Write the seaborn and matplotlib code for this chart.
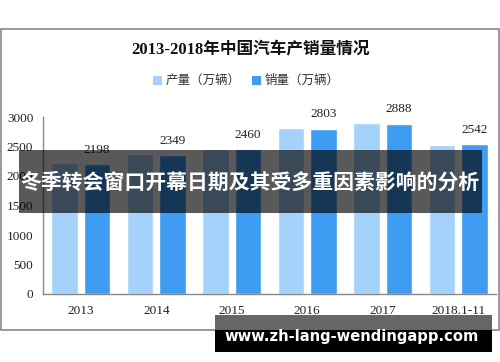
import matplotlib
matplotlib.use("Agg")
import matplotlib.pyplot as plt
import seaborn as sns
import pandas as pd
from matplotlib.patches import Rectangle

categories = ["2013", "2014", "2015", "2016", "2017", "2018.1-11"]
production = [2212, 2372, 2450, 2812, 2902, 2532]
sales = [2198, 2349, 2460, 2803, 2888, 2542]
series_names = ["产量（万辆）", "销量（万辆）"]
yticks = [0, 500, 1000, 1500, 2000, 2500, 3000]
title = "2013-2018年中国汽车产销量情况"
banner = "冬季转会窗口开幕日期及其受多重因素影响的分析"
url = "www.zh-lang-wendingapp.com"

sns.set_style("white")
plt.rcParams['font.family'] = ['Noto Sans CJK SC', 'DejaVu Sans']

df = pd.DataFrame({
    "cat": categories * 2,
    "val": production + sales,
    "series": [series_names[0]] * len(categories) + [series_names[1]] * len(categories),
})

W, H = 500, 362
fig = plt.figure(figsize=(5, 3.62), dpi=100)
ax = fig.add_axes([43 / W, 68 / H, 453 / W, 177 / H])

palette = {series_names[0]: "#a5d2fa", series_names[1]: "#3e9cf2"}
sns.barplot(data=df, x="cat", y="val", hue="series", palette=palette,
            width=0.86, gap=0.17, ax=ax, legend=False, saturation=1)

ax.set_xlim(-0.5, len(categories) - 0.5)
ax.set_ylim(0, 3000)
ax.set_yticks(yticks)
ax.set_yticklabels([str(v) for v in yticks], family=['Liberation Serif'], fontsize=9.5, color="#222222")
ax.set_xticks(range(len(categories)))
ax.set_xticklabels(categories, family=['Liberation Serif'], fontsize=9.5, color="#222222")
ax.set_xticks([i - 0.5 for i in range(len(categories) + 1)], minor=True)
ax.tick_params(axis="x", which="major", length=0, pad=8)
ax.tick_params(axis="x", which="minor", length=5, color="#888888", direction="out")
ax.tick_params(axis="y", length=5, color="#888888", direction="out", pad=2)
ax.set_xlabel("")
ax.set_ylabel("")
for s in ["top", "right"]:
    ax.spines[s].set_visible(False)
for s in ["left", "bottom"]:
    ax.spines[s].set_color("#888888")
    ax.spines[s].set_linewidth(1)

# value labels on sales bars
sales_container = ax.containers[1]
ax.bar_label(sales_container, labels=[str(v) for v in sales], padding=6,
             family=['Liberation Serif'], fontsize=9.5, color="#222222")

# outer frame
fig.patches.append(Rectangle((0.5 / W, (H - 330) / H), 498.5 / W, 301 / H,
                             transform=fig.transFigure, fill=False,
                             edgecolor="#888888", linewidth=1.2))

# title
fig.text(250 / W, 1 - 50 / H, title, ha="center", va="center", fontsize=12,
         fontweight="bold", color="#111111",
         family=['Liberation Serif', 'Noto Sans CJK SC'])

# legend
lx = [153, 252]
for i, name in enumerate(series_names):
    fig.patches.append(Rectangle((lx[i] / W, 1 - 85 / H), 9 / W, 9 / H,
                                 transform=fig.transFigure,
                                 facecolor=palette[name], edgecolor="none"))
    fig.text((lx[i] + 13) / W, 1 - 80.5 / H, name, ha="left", va="center",
             fontsize=9, color="#333333")

# dark translucent banner
fig.patches.append(Rectangle((19 / W, 1 - 213 / H), 463 / W, 63 / H,
                             transform=fig.transFigure, facecolor="black",
                             alpha=0.65, edgecolor="none", zorder=10))
fig.text(250 / W, 1 - 182 / H, banner, ha="center", va="center", fontsize=15,
         fontweight="bold", color="white", zorder=11)

# bottom url banner
fig.patches.append(Rectangle((215 / W, 1 - 330 / H), 277 / W, 15 / H,
                             transform=fig.transFigure, facecolor="#666666",
                             edgecolor="none", zorder=10))
fig.patches.append(Rectangle((215 / W, 1 - 352 / H), 277 / W, 22 / H,
                             transform=fig.transFigure, facecolor="black",
                             edgecolor="none", zorder=10))
fig.text(352 / W, 1 - 337 / H, url, ha="center", va="center", fontsize=10.6,
         fontweight="bold", color="white", zorder=11,
         family=['DejaVu Sans'])

fig.savefig("out.png", dpi=100)
